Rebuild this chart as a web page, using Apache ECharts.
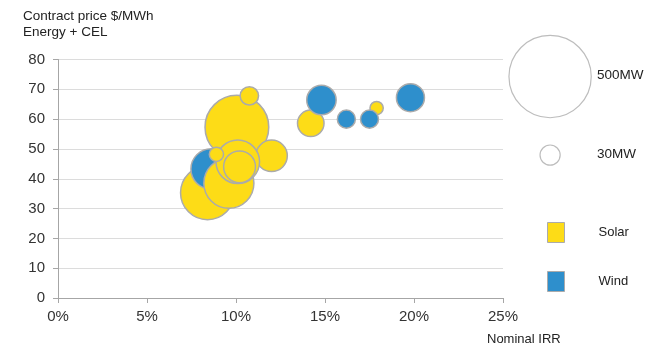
<!DOCTYPE html>
<html>
<head>
<meta charset="utf-8">
<script src="https://cdn.jsdelivr.net/npm/echarts@6/dist/echarts.min.js"></script>
<style>
  html, body { margin: 0; padding: 0; background: #fff; }
  #chart { width: 649px; height: 349px; }
</style>
</head>
<body>
<div id="chart"></div>
<script>
// Projects: nominal IRR (%), contract price ($/MWh, energy + CEL), capacity (MW)
// Solar projects drawn beneath the wind bubbles
const solarBackIRR   = [10.05, 10.75, 8.4, 12.0, 14.2, 17.9];
const solarBackPrice = [57.3, 67.8, 35.3, 47.7, 58.6, 63.7];
const solarBackMW    = [300, 25, 215, 73, 52, 13];
// Solar projects drawn above the wind bubbles
const solarFrontIRR   = [9.6, 10.1, 10.2, 8.9];
const solarFrontPrice = [38.5, 45.7, 44.0, 48.2];
const solarFrontMW    = [185, 140, 75, 15];
// Wind projects
const windIRR   = [8.6, 14.8, 16.2, 17.5, 19.8];
const windPrice = [43.3, 66.4, 60.0, 60.0, 67.2];
const windMW    = [120, 64, 24, 24, 58];
// Size key
const sizeKeyMW     = [500, 30];
const sizeKeyLabels = ['500MW', '30MW'];
// Axis ticks
const xTicks = [0, 5, 10, 15, 20, 25];
const yTicks = [0, 10, 20, 30, 40, 50, 60, 70, 80];

const SOLAR = '#FDDC17';
const WIND = '#2E8FCC';
const EDGE = '#ABABAB';
const K = 1.84; // radius per sqrt(MW)
const diameter = mw => 2 * K * Math.sqrt(mw);

const zip = (xs, ys, ms) => xs.map((x, i) => [x, ys[i], ms[i]]);

const chart = echarts.init(document.getElementById('chart'));
const fontFam = '"Liberation Sans", Arial, sans-serif';

const bubble = (name, data, color) => ({
  name: name,
  type: 'scatter',
  data: data,
  symbolSize: v => diameter(v[2]),
  itemStyle: { color: color, borderColor: EDGE, borderWidth: 1.5, opacity: 1 },
  emphasis: { disabled: true },
  animation: false
});

// Size-key circles and labels
const keyGraphics = [];
const keyCentersY = [76, 154.5];
sizeKeyMW.forEach((mw, i) => {
  keyGraphics.push({
    type: 'circle', left: 549.5 - diameter(mw) / 2, top: keyCentersY[i] - diameter(mw) / 2,
    shape: { r: diameter(mw) / 2 },
    style: { fill: '#fff', stroke: '#BDBDBD', lineWidth: 1.2 }
  });
  keyGraphics.push({
    type: 'text', left: 597, top: keyCentersY[i] - 7.5,
    style: { text: sizeKeyLabels[i], font: '13.5px ' + fontFam, fill: '#222' }
  });
});

chart.setOption({
  animation: false,
  grid: { left: 58, right: 146, top: 59.5, bottom: 51 },
  xAxis: {
    type: 'value', min: xTicks[0], max: xTicks[xTicks.length - 1], interval: 5,
    axisLine: { show: true, lineStyle: { color: '#A6A6A6', width: 1 } },
    axisTick: { show: true, length: 5, lineStyle: { color: '#A6A6A6' } },
    splitLine: { show: false },
    axisLabel: { formatter: v => v + '%', color: '#333', fontSize: 15, margin: 11, fontFamily: fontFam }
  },
  yAxis: {
    type: 'value', min: yTicks[0], max: yTicks[yTicks.length - 1], interval: 10,
    axisLine: { show: true, lineStyle: { color: '#A6A6A6', width: 1 } },
    axisTick: { show: true, length: 5, lineStyle: { color: '#A6A6A6' } },
    splitLine: { show: true, lineStyle: { color: '#DCDCDC', width: 1 } },
    axisLabel: { color: '#333', fontSize: 15, margin: 13, fontFamily: fontFam }
  },
  legend: {
    data: ['Solar', 'Wind'],
    orient: 'vertical', left: 542, top: 217,
    icon: 'rect', itemWidth: 17, itemHeight: 20, itemGap: 28,
    itemStyle: { borderColor: EDGE, borderWidth: 1 },
    textStyle: { color: '#222', fontSize: 13, fontFamily: fontFam, padding: [0, 0, 0, 29] },
    selectedMode: false
  },
  graphic: [
    { type: 'text', left: 23, top: 8,
      style: { text: 'Contract price $/MWh\nEnergy + CEL', font: '13.5px ' + fontFam, fill: '#222', lineHeight: 16.5 } },
    { type: 'text', left: 487, top: 333,
      style: { text: 'Nominal IRR', font: '13px ' + fontFam, fill: '#222' } }
  ].concat(keyGraphics),
  series: [
    bubble('Solar', zip(solarBackIRR, solarBackPrice, solarBackMW), SOLAR),
    bubble('Wind', zip(windIRR, windPrice, windMW), WIND),
    bubble('Solar', zip(solarFrontIRR, solarFrontPrice, solarFrontMW), SOLAR)
  ]
});
</script>
</body>
</html>
